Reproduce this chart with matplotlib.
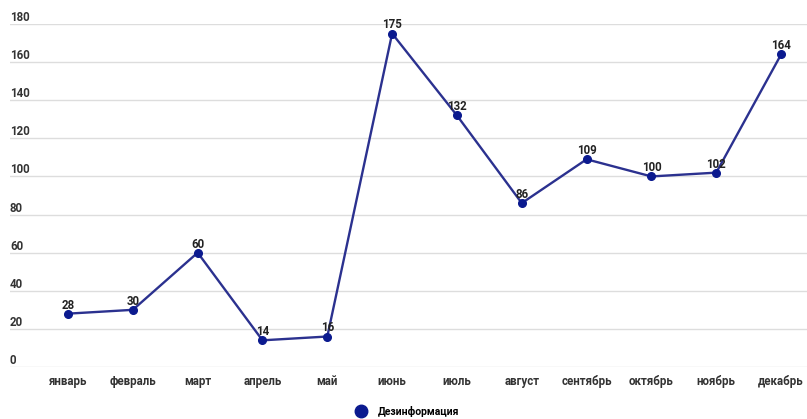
import matplotlib.pyplot as plt
from matplotlib.lines import Line2D

plt.rcParams['font.family'] = ['Roboto', 'DejaVu Sans']

months = ['январь', 'февраль', 'март', 'апрель', 'май', 'июнь',
          'июль', 'август', 'сентябрь', 'октябрь', 'ноябрь', 'декабрь']
values = [28, 30, 60, 14, 16, 175, 132, 86, 109, 100, 102, 164]
yticks = [0, 20, 40, 60, 80, 100, 120, 140, 160, 180]
series_name = 'Дезинформация'

W, H = 807, 419
fig = plt.figure(figsize=(W / 100, H / 100), dpi=100)
# axes: x from px 10 to 807, y from px 24 (180) to 367 (0)
ax = fig.add_axes([10 / W, 1 - 367 / H, 797 / W, 343 / H])

x = list(range(len(months)))
ax.plot(x, values, color='#2b318f', linewidth=1.7, marker='o',
        markersize=5.5, markerfacecolor='#0b1a8f', markeredgecolor='#0b1a8f',
        clip_on=False, zorder=3)

for xi, v in zip(x, values):
    ax.annotate(str(v), (xi, v), xytext=(0, 1.5), textcoords='offset points',
                ha='center', va='bottom', fontsize=8.3, color='#222222',
                fontweight='bold', zorder=4)

ax.set_xlim(-0.895, 11.40)
ax.set_ylim(0, 180)
ax.set_yticks(yticks)
ax.yaxis.grid(True, color='#dddddd', linewidth=1)
ax.set_axisbelow(True)
ax.tick_params(axis='y', length=0, labelleft=False)
for t in yticks:
    ax.text(0, t, str(t), transform=ax.get_yaxis_transform(),
            ha='left', va='bottom', fontsize=8.3, color='#333333',
            fontweight='bold')

ax.set_xticks(x)
ax.set_xticklabels(months, fontsize=8.3, color='#333333', fontweight='bold')
ax.tick_params(axis='x', length=0, pad=6)
for s in ax.spines.values():
    s.set_visible(False)

handle = Line2D([], [], linestyle='none', marker='o', markersize=9,
                markerfacecolor='#0b1a8f', markeredgecolor='#0b1a8f')
fig.legend([handle], [series_name], loc='center', bbox_to_anchor=(405 / W, 1 - 411 / H),
           frameon=False, prop={'size': 7.5, 'weight': 'bold'}, handletextpad=0.6)

fig.savefig('out.png', dpi=100)
